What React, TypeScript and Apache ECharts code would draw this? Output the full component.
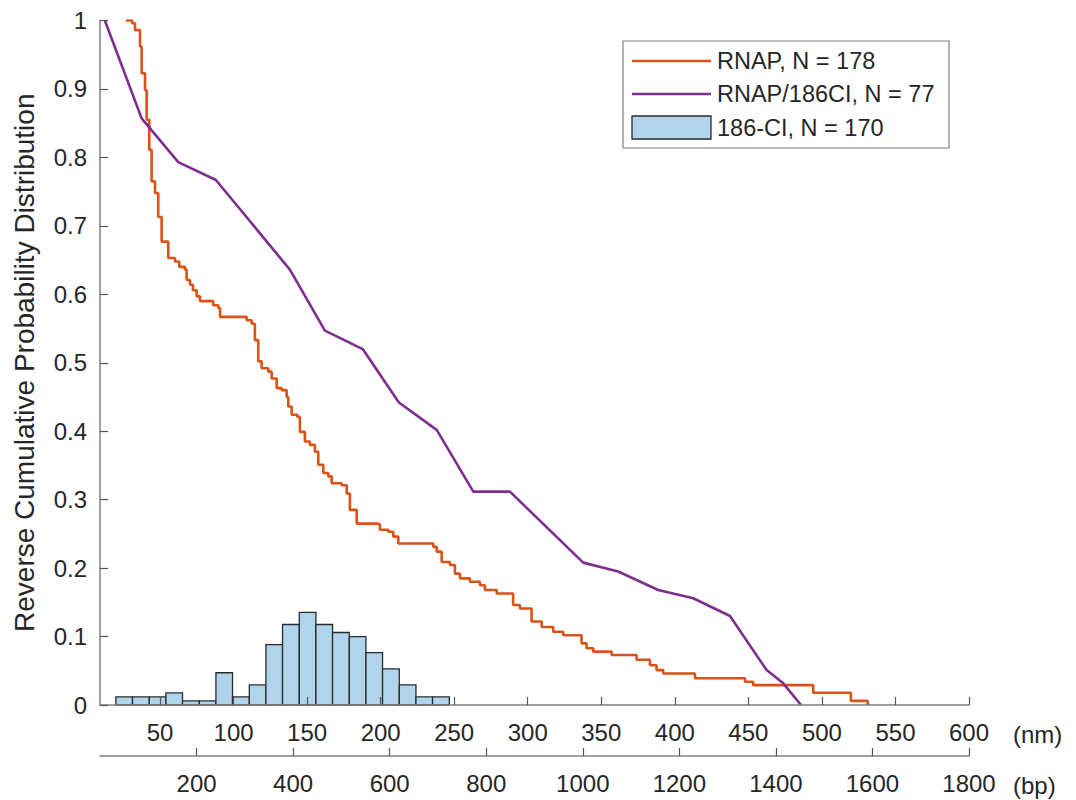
import React, { useEffect, useRef } from "react";
import * as echarts from "echarts";

// ---- data ----
const nmTicks = [50, 100, 150, 200, 250, 300, 350, 400, 450, 500, 550, 600];
const bpTicks = [200, 400, 600, 800, 1000, 1200, 1400, 1600, 1800];

// RNAP, N = 178 (reverse cumulative, traced staircase corners) [nm, probability]
const rnapX = [26.9, 31.1, 33.0, 36.4, 37.5, 39.8, 40.9, 42.7, 44.3, 46.6, 48.8, 51.1, 55.6, 60.2, 63.1, 67.0, 68.1, 70.4, 72.4, 74.9, 77.2, 84.0, 86.2, 89.6, 90.8, 106.2, 108.9, 112.3, 114.5, 116.8, 119.1, 123.6, 125.9, 129.3, 132.7, 136.1, 137.2, 139.5, 143.3, 145.1, 148.5, 151.9, 155.3, 157.6, 161.0, 164.4, 166.7, 173.5, 176.9, 179.1, 183.7, 197.3, 199.5, 205.2, 208.6, 212.0, 234.7, 235.8, 238.1, 241.5, 247.1, 250.5, 253.9, 260.7, 267.5, 270.9, 278.9, 289.1, 290.1, 294.7, 301.5, 302.6, 309.5, 317.3, 324.1, 334.3, 336.6, 340.0, 344.5, 355.9, 357.0, 371.7, 374.0, 380.8, 383.1, 387.6, 392.1, 412.5, 413.7, 445.4, 447.7, 453.3, 491.8, 494.1, 519.0, 519.7, 531.2, 531.2];
const rnapY = [1.0, 0.996, 0.986, 0.962, 0.923, 0.898, 0.855, 0.811, 0.765, 0.748, 0.713, 0.677, 0.653, 0.648, 0.640, 0.636, 0.621, 0.614, 0.606, 0.597, 0.590, 0.590, 0.584, 0.580, 0.567, 0.567, 0.562, 0.557, 0.533, 0.502, 0.492, 0.487, 0.477, 0.463, 0.460, 0.450, 0.436, 0.424, 0.421, 0.399, 0.385, 0.380, 0.370, 0.351, 0.339, 0.334, 0.324, 0.321, 0.309, 0.285, 0.265, 0.264, 0.256, 0.253, 0.246, 0.236, 0.236, 0.231, 0.224, 0.209, 0.2045, 0.192, 0.185, 0.180, 0.175, 0.168, 0.163, 0.163, 0.146, 0.141, 0.141, 0.122, 0.114, 0.107, 0.102, 0.102, 0.090, 0.083, 0.078, 0.078, 0.073, 0.073, 0.066, 0.066, 0.058, 0.051, 0.046, 0.046, 0.039, 0.039, 0.034, 0.029, 0.029, 0.018, 0.018, 0.006, 0.006, 0.0];

// RNAP/186CI, N = 77 [nm, probability]
const mixX = [12.5, 37.5, 62.4, 88.0, 138.3, 162.1, 187.8, 212.4, 238.1, 263.0, 287.9, 337.7, 361.5, 388.7, 412.5, 437.5, 462.4, 473.7, 485.8];
const mixY = [1.0, 0.857, 0.793, 0.767, 0.636, 0.547, 0.520, 0.442, 0.402, 0.3117, 0.3117, 0.208, 0.195, 0.168, 0.156, 0.130, 0.051, 0.0317, 0.0];

// 186-CI, N = 170 histogram (probability per bin)
const histEdges = [20, 31.3, 42.7, 54, 65.3, 76.7, 88, 99.3, 110.7, 122, 133.3, 144.7, 156, 167.3, 178.7, 190, 201.3, 212.7, 224, 235.3, 246.7];
const histValues = [0.0118, 0.0118, 0.0118, 0.0176, 0.0059, 0.0059, 0.0471, 0.0118, 0.0294, 0.0882, 0.1176, 0.1353, 0.1176, 0.1059, 0.1, 0.0765, 0.0529, 0.0294, 0.0118, 0.0118];

const legendNames = ["RNAP, N = 178", "RNAP/186CI, N = 77", "186-CI, N = 170"];

const ORANGE = "#D95319";
const PURPLE = "#7E2F8E";
const HISTFILL = "#B0D4EC";
const AXIS = "#808080";
const TEXT = "#262626";
const FONT = "'Liberation Sans', Arial, Helvetica, sans-serif";

export default function App() {
  const ref = useRef<HTMLDivElement>(null);
  useEffect(() => {
    if (!ref.current) return;
    const chart = echarts.init(ref.current, undefined, { renderer: "svg" });
    const histData = histValues.map((v, i) => [histEdges[i], histEdges[i + 1], v]);
    const plain = (v: number) => String(v);
    const option: any = {
      animation: false,
      backgroundColor: "#ffffff",
      textStyle: { fontFamily: FONT },
      grid: { left: 100, right: 107, top: 20.5, bottom: 95, containLabel: false },
      xAxis: [
        {
          type: "value",
          min: 9.2,
          max: 600,
          z: 10,
          axisLine: { show: true, onZero: false, lineStyle: { color: AXIS, width: 1.5 } },
          axisTick: { show: true, inside: true, length: 8, customValues: nmTicks, lineStyle: { color: "#555", width: 1.2 } },
          axisLabel: { show: true, customValues: nmTicks, fontSize: 24, color: TEXT, margin: 15, fontFamily: FONT, formatter: plain },
          splitLine: { show: false },
        },
        {
          type: "value",
          position: "bottom",
          offset: 51,
          min: 0,
          max: 1800,
          axisLine: { show: true, onZero: false, lineStyle: { color: AXIS, width: 1.5 } },
          axisTick: { show: true, inside: true, length: 8, customValues: bpTicks, lineStyle: { color: "#555", width: 1.2 } },
          axisLabel: { show: true, customValues: bpTicks, fontSize: 24, color: TEXT, margin: 15, fontFamily: FONT, formatter: plain },
          splitLine: { show: false },
        },
      ],
      yAxis: {
        type: "value",
        min: 0,
        max: 1,
        interval: 0.1,
        z: 10,
        name: "Reverse Cumulative Probability Distribution",
        nameLocation: "middle",
        nameGap: 62,
        nameTextStyle: { fontSize: 28, color: TEXT, fontFamily: FONT },
        axisLine: { show: true, lineStyle: { color: AXIS, width: 1.5 } },
        axisTick: { show: true, inside: true, length: 8, lineStyle: { color: "#555", width: 1.2 } },
        axisLabel: {
          fontSize: 24,
          color: TEXT,
          margin: 13,
          fontFamily: FONT,
          formatter: (v: number) => String(Math.round(v * 10) / 10),
        },
        splitLine: { show: false },
      },
      series: [
        {
          name: legendNames[2],
          type: "custom",
          xAxisIndex: 0,
          data: histData,
          encode: { x: [0, 1], y: 2 },
          renderItem: (params: any, api: any) => {
            const x0 = api.value(0);
            const x1 = api.value(1);
            const h = api.value(2);
            const p0 = api.coord([x0, h]);
            const p1 = api.coord([x1, 0]);
            return {
              type: "rect",
              shape: { x: p0[0], y: p0[1], width: p1[0] - p0[0], height: p1[1] - p0[1] },
              style: { fill: HISTFILL, stroke: "#2a2a2a", lineWidth: 1.3 },
            };
          },
        },
        {
          name: legendNames[0],
          type: "line",
          xAxisIndex: 0,
          step: "end",
          data: rnapX.map((x, i) => [x, rnapY[i]]),
          showSymbol: false,
          symbol: "none",
          lineStyle: { color: ORANGE, width: 2.6 },
          z: 4,
        },
        {
          name: legendNames[1],
          type: "line",
          xAxisIndex: 0,
          data: mixX.map((x, i) => [x, mixY[i]]),
          showSymbol: false,
          symbol: "none",
          lineStyle: { color: PURPLE, width: 2.6 },
          z: 5,
        },
      ],
      graphic: [
        {
          type: "rect",
          shape: { x: 623, y: 41, width: 326, height: 107 },
          style: { fill: "#ffffff", stroke: "#808080", lineWidth: 1.2 },
          z: 100,
        },
        { type: "line", shape: { x1: 632, y1: 61, x2: 711, y2: 61 }, style: { stroke: ORANGE, lineWidth: 2.6 }, z: 101 },
        { type: "line", shape: { x1: 632, y1: 94, x2: 711, y2: 94 }, style: { stroke: PURPLE, lineWidth: 2.6 }, z: 101 },
        {
          type: "rect",
          shape: { x: 632, y: 116, width: 79, height: 23 },
          style: { fill: HISTFILL, stroke: "#2a2a2a", lineWidth: 1.3 },
          z: 101,
        },
        { type: "text", x: 717, y: 61, style: { text: legendNames[0], fontSize: 23.5, fill: TEXT, verticalAlign: "middle", fontFamily: FONT }, z: 101 },
        { type: "text", x: 717, y: 94, style: { text: legendNames[1], fontSize: 23.5, fill: TEXT, verticalAlign: "middle", fontFamily: FONT }, z: 101 },
        { type: "text", x: 717, y: 127.5, style: { text: legendNames[2], fontSize: 23.5, fill: TEXT, verticalAlign: "middle", fontFamily: FONT }, z: 101 },
        { type: "text", x: 1013, y: 734, style: { text: "(nm)", fontSize: 24, fill: TEXT, verticalAlign: "middle", fontFamily: FONT }, z: 101 },
        { type: "text", x: 1013, y: 785, style: { text: "(bp)", fontSize: 24, fill: TEXT, verticalAlign: "middle", fontFamily: FONT }, z: 101 },
      ],
    };
    chart.setOption(option);
    return () => chart.dispose();
  }, []);
  return (
    <div
      ref={ref}
      style={{ position: "fixed", left: 0, top: 0, width: 1076, height: 800, background: "#fff" }}
    />
  );
}
